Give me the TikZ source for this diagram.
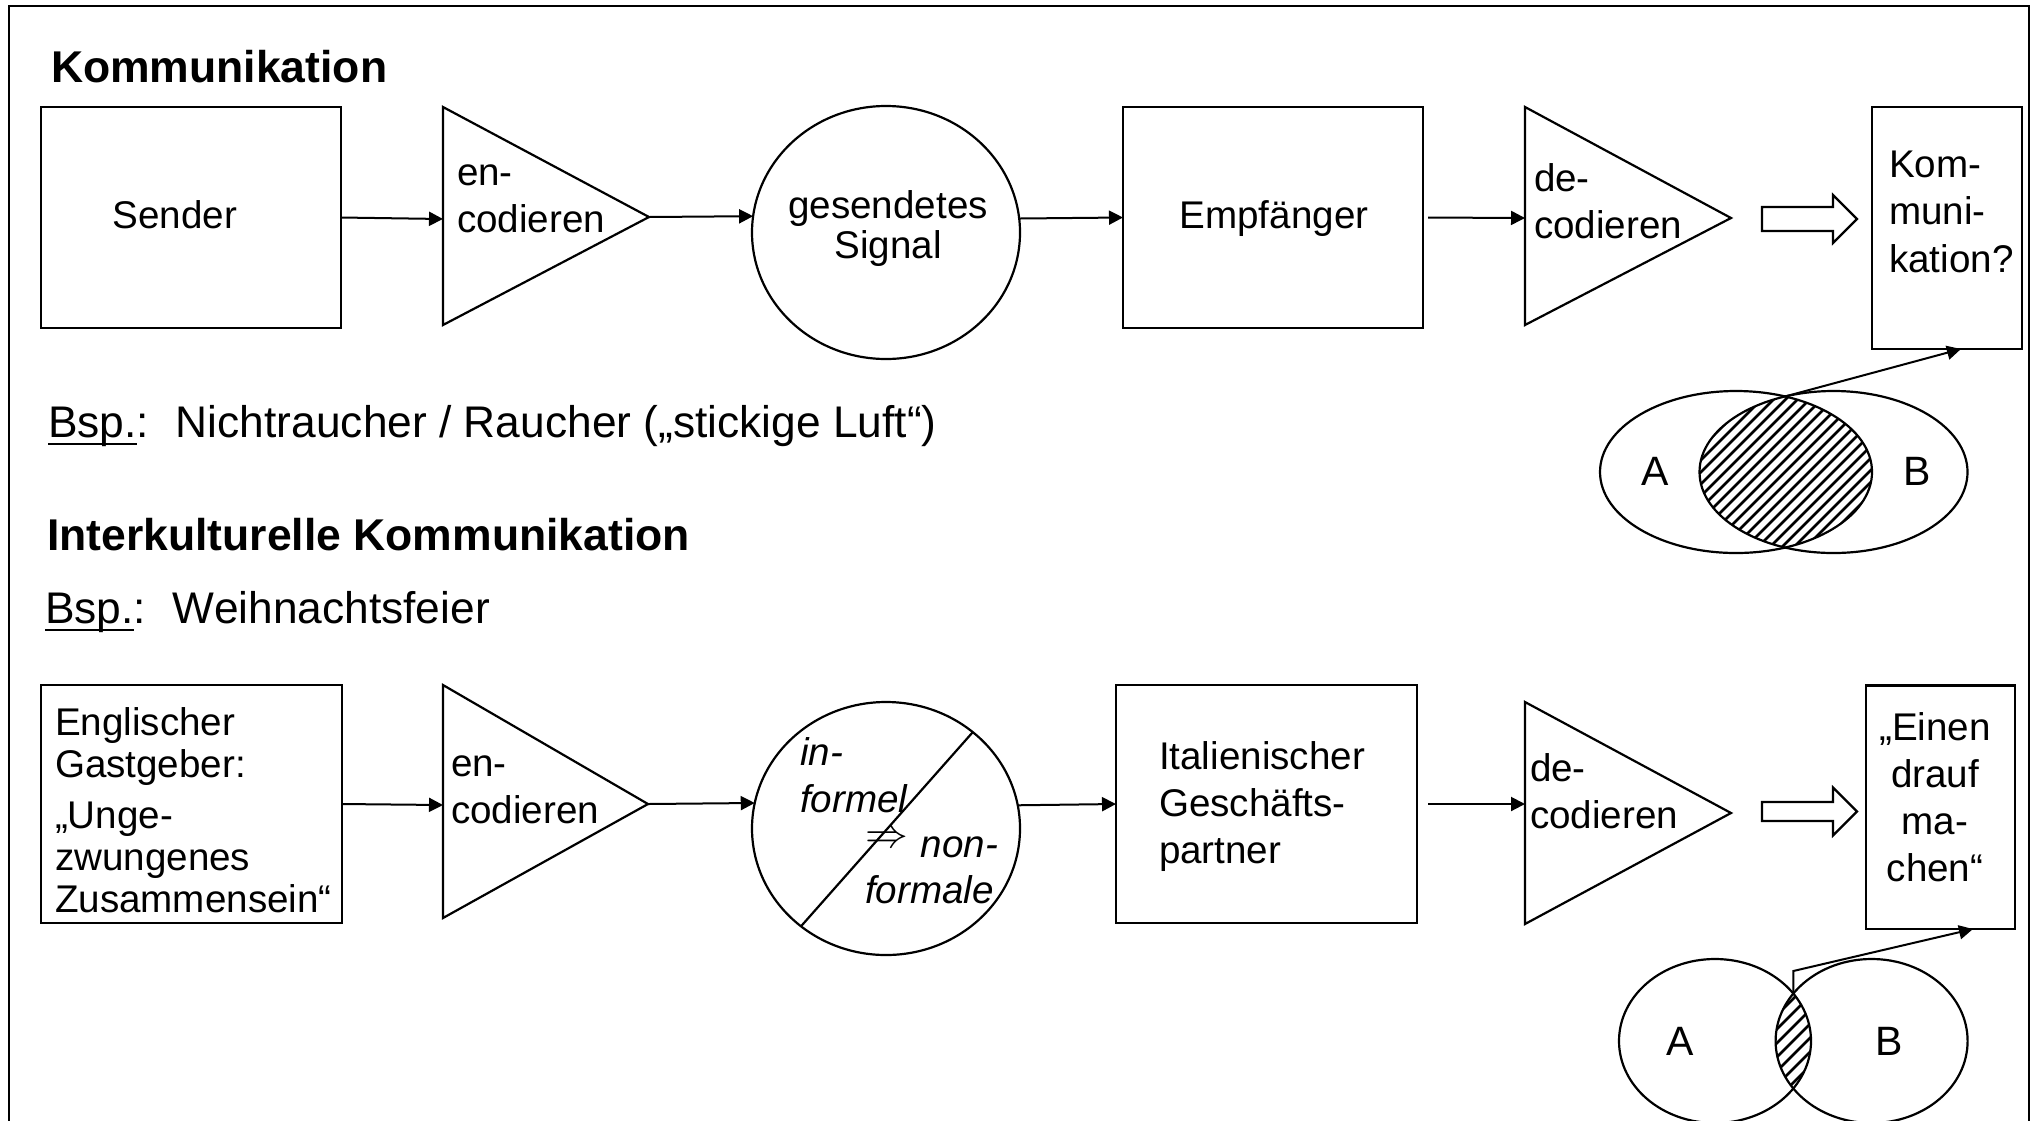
\documentclass[tikz,border=0pt]{standalone}
\usepackage{fontspec}
\setmainfont{Liberation Sans}
\usetikzlibrary{arrows.meta,shapes.geometric,calc}

% underline with a fixed offset below the baseline
\newcommand\ulbsp[1]{\setbox0\hbox{#1}\rlap{\rule[-8pt]{\wd0}{2.2pt}}\box0}

% Multi-line text nodes are placed by the baseline of their LAST line.
\tikzset{
  every node/.style={inner sep=0pt, outer sep=0pt},
  shapeline/.style={line width=2.2pt, line join=miter},
  boxshape/.style={draw, shapeline, rectangle},
  roundshape/.style={draw, shapeline, ellipse},
  conn/.style={line width=2pt, -{Triangle[length=14pt,width=14pt]}},
  hatch/.style={line width=2.6pt},
  boxtxt/.style={font=\fontsize{38.6}{47}\selectfont, align=left, anchor=base west},
  ctrtxt/.style={font=\fontsize{38.6}{47}\selectfont, align=center, anchor=base},
  freetxt/.style={font=\fontsize{44.3}{52}\selectfont, anchor=base west},
  headtxt/.style={font=\fontsize{44.5}{52}\selectfont\bfseries, anchor=base west},
  venntxt/.style={font=\fontsize{41}{48}\selectfont},
}

\begin{document}
\begin{tikzpicture}[x=1pt, y=-1pt]
\useasboundingbox (0,0) rectangle (2033,1120);

% outer frame (open at the bottom)
\draw[line width=2.4pt] (9,1130) -- (9,6) -- (2029,6) -- (2029,1130);

%% ---------- Kommunikation ----------
\node[headtxt] (title1) at (51,82) {Kommunikation};

\node[boxshape, minimum width=300pt, minimum height=221pt] (sender) at (191,217.5) {};
\node[ctrtxt] (sendertxt) at (175,228) {Sender};

\draw[shapeline] (443,107) coordinate (enc1top) -- (649,217) coordinate (enc1tip)
  -- (443,325) coordinate (enc1bot) -- cycle;
\coordinate (enc1in) at (443,219);
\node[boxtxt] (enc1txt) at (457,232) {en-\\codieren};

\node[roundshape, minimum width=268pt, minimum height=253pt] (circ1) at (886,232.5) {};
\node[ctrtxt, font=\fontsize{38.6}{40}\selectfont] (circ1txt) at (888,258) {gesendetes\\Signal};

\node[boxshape, minimum width=300pt, minimum height=221pt] (emp) at (1273,217.5) {};
\node[ctrtxt] (emptxt) at (1274,228) {Empfänger};

\draw[shapeline] (1525,107) coordinate (dec1top) -- (1731,218) coordinate (dec1tip)
  -- (1525,325) coordinate (dec1bot) -- cycle;
\coordinate (dec1in) at (1525,218);
\node[boxtxt] (dec1txt) at (1534,238) {de-\\codieren};

\draw[shapeline] (1762,207) coordinate (hol1a) -- (1833,207) -- (1833,195)
  -- (1857,219) coordinate (hol1tip) -- (1833,243) -- (1833,231) -- (1762,231) -- cycle;

\node[boxshape, minimum width=150pt, minimum height=242pt] (kom) at (1947,228) {};
\node[boxtxt, font=\fontsize{38.6}{47.5}\selectfont] (komtxt) at (1889,272) {Kom-\\muni-\\kation?};

\draw[conn] (sender.east) -- (enc1in);
\draw[conn] (enc1tip) -- (circ1.173.4);
\draw[conn] (circ1.6.7) -- (emp.west);
\draw[conn, shorten <=5pt] (emp.east) -- (dec1in);

% overlap of A and B
\begin{scope}
  \clip (1736,472) ellipse [x radius=136pt, y radius=81pt];
  \clip (1833.5,472) ellipse [x radius=134pt, y radius=81pt];
  \foreach \i in {-22,...,22}
    \draw[hatch] (1785+\i*12-120,592) -- ++(240,-240);
\end{scope}
\draw[shapeline] (1736,472) ellipse [x radius=136pt, y radius=81pt];
\draw[shapeline] (1833.5,472) ellipse [x radius=134pt, y radius=81pt];
\node[venntxt] (a1) at (1655,471) {A};
\node[venntxt] (b1) at (1917,471) {B};
\coordinate (lens1) at (1785,396.5);
\draw[conn] (lens1) -- ($(kom.south west)!0.593!(kom.south east)$);

\node[freetxt] (bsp1) at (48,437)
  {\ulbsp{Bsp.}:\hspace{27pt}Nichtraucher / Raucher („stickige Luft“)};

%% ---------- Interkulturelle Kommunikation ----------
\node[headtxt] (title2) at (47,550) {Interkulturelle Kommunikation};
\node[freetxt] (bsp2) at (45,623) {\ulbsp{Bsp.}:\hspace{27pt}Weihnachtsfeier};

\node[boxshape, minimum width=301pt, minimum height=238pt] (engl) at (191.5,804) {};
\node[boxtxt, font=\fontsize{38.6}{42}\selectfont] (engltxt) at (55,912)
  {Englischer\\Gastgeber:\\[9pt]„Unge-\\zwungenes\\Zusammensein“};

\draw[shapeline] (443,685) coordinate (enc2top) -- (648,804) coordinate (enc2tip)
  -- (443,918) coordinate (enc2bot) -- cycle;
\coordinate (enc2in) at (443,805);
\node[boxtxt] (enc2txt) at (451,823) {en-\\codieren};

\node[roundshape, minimum width=268pt, minimum height=253pt] (circ2) at (886,828.5) {};
\draw[shapeline] (circ2.-131) -- (circ2.48);
\node[boxtxt, font=\fontsize{38.6}{47}\selectfont\itshape] (infml) at (800,812) {in-\\formel};
\node[boxtxt, font=\fontsize{38.6}{46}\selectfont\itshape] (nonfml) at (865,903)
  {\raisebox{10pt}{\scalebox{1.72}{$\Rightarrow$}}\hspace{13pt}non-\\formale};

\node[boxshape, minimum width=301pt, minimum height=238pt] (ital) at (1266.5,804) {};
\node[boxtxt] (italtxt) at (1159,863) {Italienischer\\Geschäfts-\\partner};

\draw[shapeline] (1525,702) coordinate (dec2top) -- (1731,813) coordinate (dec2tip)
  -- (1525,924) coordinate (dec2bot) -- cycle;
\coordinate (dec2in) at (1525,804);
\node[boxtxt] (dec2txt) at (1530,828) {de-\\codieren};

\draw[shapeline] (1762,802) coordinate (hol2a) -- (1833,802) -- (1833,787.5)
  -- (1857,811.5) coordinate (hol2tip) -- (1833,835.5) -- (1833,821) -- (1762,821) -- cycle;

\node[boxshape, minimum width=149pt, minimum height=243.5pt] (einen) at (1940.5,807.25) {};
\node[ctrtxt] (einentxt) at (1935,881) {„Einen\\drauf\\ma-\\chen“};

\draw[conn] (engl.east) -- (enc2in);
\draw[conn] (enc2tip) -- (circ2.169.5);
\draw[conn] (circ2.10.5) -- (ital.west);
\draw[conn, shorten <=11pt] (ital.east) -- (dec2in);

% small overlap of A and B
\begin{scope}
  \clip (1715,1041) ellipse [x radius=96pt, y radius=82pt];
  \clip (1871.6,1041) ellipse [x radius=96pt, y radius=82pt];
  \foreach \i in {-10,...,10}
    \draw[hatch] (1793+\i*14-80,1121) -- ++(160,-160);
\end{scope}
\draw[shapeline] (1715,1041) ellipse [x radius=96pt, y radius=82pt];
\draw[shapeline] (1871.6,1041) ellipse [x radius=96pt, y radius=82pt];
\node[venntxt] (a2) at (1680,1041) {A};
\node[venntxt] (b2) at (1889.5,1041) {B};
\coordinate (lens2) at (1793.3,993.6);
\draw[conn] (lens2) -- ++(0,-22.6) -- ($(einen.south west)!0.718!(einen.south east)$);

\end{tikzpicture}
\end{document}
